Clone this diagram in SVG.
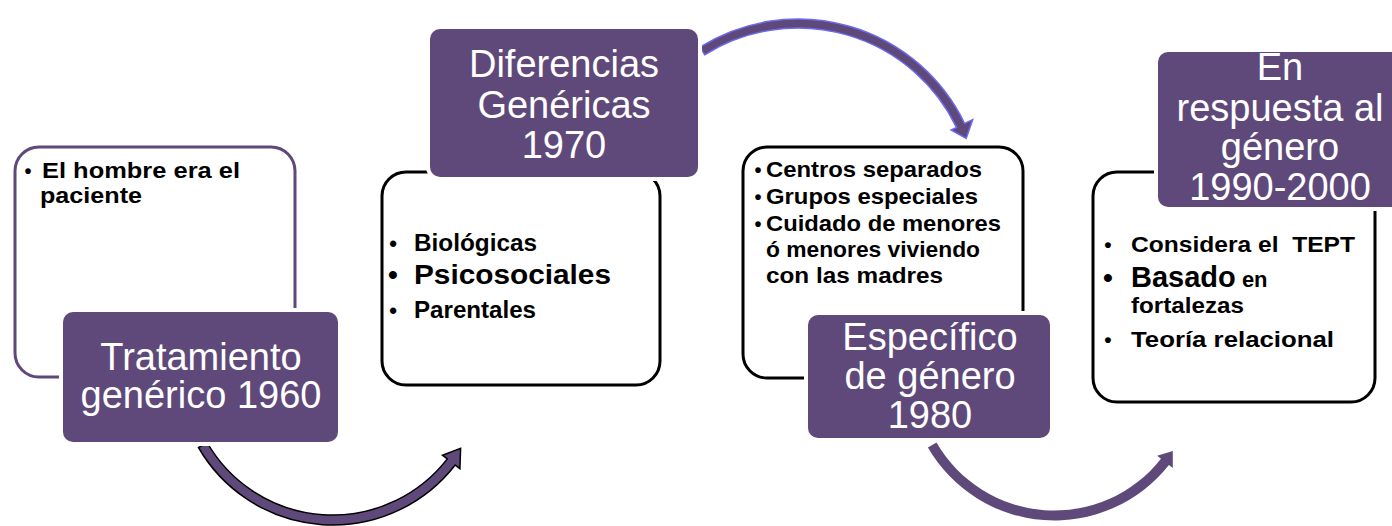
<svg xmlns="http://www.w3.org/2000/svg" width="1392" height="526" viewBox="0 0 1392 526">
<style>
.outline{fill:#fff;stroke:#000;stroke-width:3}
.op{stroke:#5f497a}
.title{fill:#5f497a;stroke:#fff;stroke-width:8;paint-order:stroke}
.tt{font-family:"Liberation Sans",Arial,sans-serif;font-size:38px;fill:#fff;text-anchor:middle}
.b{font-family:"Liberation Sans",Arial,sans-serif;font-weight:bold;fill:#000;white-space:pre}
.bul{font-family:"Liberation Sans",Arial,sans-serif;font-weight:bold;fill:#000;text-anchor:middle}
</style>
<rect width="1392" height="526" fill="#fff"/>
<g id="connectors">
<path d="M198.5,447.5 A155,155 0 0 0 455.2,465 L459.9,468.7 L460.6,448.4 L442.5,455.2 L447.3,458.9 A145,145 0 0 1 207.1,442.5 Z" fill="#5f497a" stroke="#000" stroke-width="1.5" stroke-linejoin="miter"/>
<path d="M700,47.1 A185,185 0 0 1 964.6,123.5 L972.7,119.6 L966.2,138.4 L951.1,130 L956.5,127.4 A176,176 0 0 0 704.7,54.8 Z" fill="#5f497a" stroke="#6b6bf0" stroke-width="1.5"/>
<path d="M927.9,447.5 A146,146 0 0 0 1168.9,465 L1172.8,468.1 L1172.8,450.9 L1157.1,455.7 L1161,458.8 A136,136 0 0 1 936.5,442.5 Z" fill="#5f497a"/>
</g>
<g id="node1">
<rect class="outline op" x="15" y="147" width="280" height="230" rx="24"/>
<text class="bul" x="28" y="178" font-size="20">•</text>
<text class="b" x="42" y="178" font-size="22" textLength="198" lengthAdjust="spacingAndGlyphs">El hombre era el</text>
<text class="b" x="40" y="203" font-size="22" textLength="102" lengthAdjust="spacingAndGlyphs">paciente</text>
<rect class="title" x="63" y="312" width="275" height="130" rx="10"/>
<text class="tt" x="201" y="370">Tratamiento</text>
<text class="tt" x="201" y="408">genérico 1960</text>
</g>
<g id="node2">
<rect class="outline" x="382" y="172" width="278" height="213" rx="24"/>
<text class="bul" x="393" y="251" font-size="22">•</text>
<text class="b" x="414" y="251" font-size="23" textLength="123" lengthAdjust="spacingAndGlyphs">Biológicas</text>
<text class="bul" x="393" y="284" font-size="28">•</text>
<text class="b" x="414" y="284" font-size="28" textLength="197" lengthAdjust="spacingAndGlyphs">Psicosociales</text>
<text class="bul" x="393" y="318" font-size="22">•</text>
<text class="b" x="414" y="318" font-size="23" textLength="122" lengthAdjust="spacingAndGlyphs">Parentales</text>
<rect class="title" x="430" y="29" width="268" height="148" rx="10"/>
<text class="tt" x="564" y="77">Diferencias</text>
<text class="tt" x="564" y="118">Genéricas</text>
<text class="tt" x="564" y="158">1970</text>
</g>
<g id="node3">
<rect class="outline" x="743" y="147" width="280" height="231" rx="24"/>
<text class="bul" x="758" y="177" font-size="20">•</text>
<text class="b" x="766" y="177" font-size="22" textLength="216" lengthAdjust="spacingAndGlyphs">Centros separados</text>
<text class="bul" x="758" y="204" font-size="20">•</text>
<text class="b" x="766" y="204" font-size="22" textLength="212" lengthAdjust="spacingAndGlyphs">Grupos especiales</text>
<text class="bul" x="758" y="231" font-size="20">•</text>
<text class="b" x="766" y="231" font-size="22" textLength="235" lengthAdjust="spacingAndGlyphs">Cuidado de menores</text>
<text class="b" x="766" y="257" font-size="22" textLength="214" lengthAdjust="spacingAndGlyphs">ó menores viviendo</text>
<text class="b" x="766" y="283" font-size="22" textLength="177" lengthAdjust="spacingAndGlyphs">con las madres</text>
<rect class="title" x="808" y="315" width="242" height="123" rx="10"/>
<text class="tt" x="930" y="350">Específico</text>
<text class="tt" x="930" y="389">de género</text>
<text class="tt" x="930" y="428">1980</text>
</g>
<g id="node4">
<rect class="outline" x="1093" y="172" width="282" height="230" rx="24"/>
<text class="bul" x="1108" y="252" font-size="21">•</text>
<text class="b" x="1131" y="252" font-size="22" textLength="224" lengthAdjust="spacingAndGlyphs">Considera el  TEPT</text>
<text class="bul" x="1108" y="287" font-size="28">•</text>
<text class="b" x="1131" y="287" font-size="29">Basado<tspan font-size="22"> en</tspan></text>
<text class="b" x="1131" y="313" font-size="22" textLength="113" lengthAdjust="spacingAndGlyphs">fortalezas</text>
<text class="bul" x="1108" y="347" font-size="21">•</text>
<text class="b" x="1131" y="347" font-size="22" textLength="203" lengthAdjust="spacingAndGlyphs">Teoría relacional</text>
<rect class="title" x="1158" y="52" width="244" height="155" rx="10"/>
<text class="tt" x="1280" y="80">En</text>
<text class="tt" x="1280" y="121">respuesta al</text>
<text class="tt" x="1280" y="160">género</text>
<text class="tt" x="1280" y="200">1990-2000</text>
</g>
</svg>
